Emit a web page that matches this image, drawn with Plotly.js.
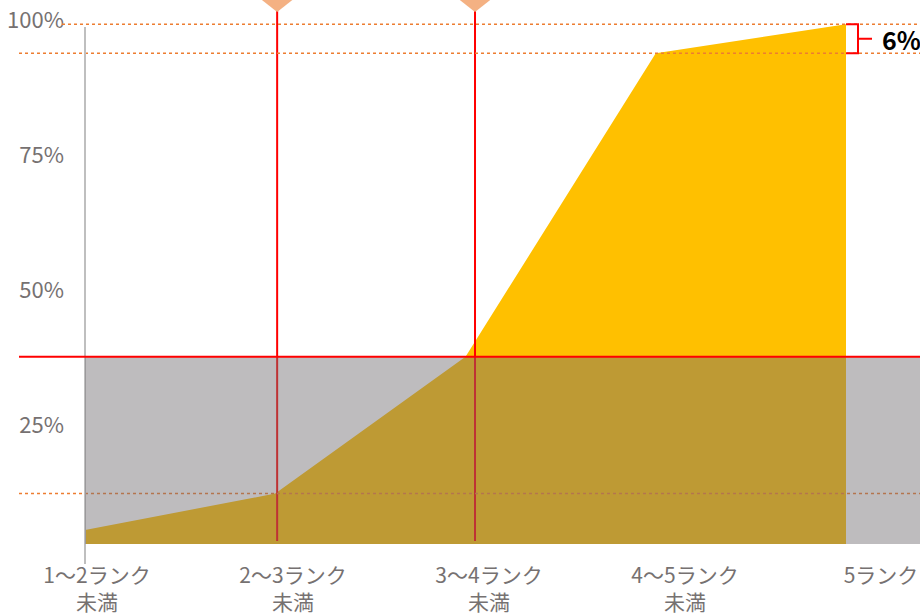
<!DOCTYPE html>
<html>
<head>
<meta charset="utf-8">
<script src="https://cdn.plot.ly/plotly-3.0.1.min.js"></script>
<style>html,body{margin:0;padding:0;background:#fff;}#chart{width:920px;height:614px;}</style>
</head>
<body>
<div id="chart"></div>
<script>
// ---- data ----
const categories = ['1～2ランク<br>未満', '2～3ランク<br>未満', '3～4ランク<br>未満', '4～5ランク<br>未満', '5ランク'];
const shareValues = [2.7, 9.7, 36, 94.4, 100];
const thresholdLevel = 36;
const markerPositions = [1.01, 2.05];
const refLevels = [100, 94.4, 9.7];
const yTickValues = [25, 50, 75, 100];
const gapLabel = '6%';

// ---- geometry helpers (page pixels -> data units) ----
const W = 920, H = 614, ML = 66, MB = 70;
const X0PX = 85, XSTEP = 190.25;
const Y0PX = 544, YSCALE = 5.198;
const px2x = p => (p - X0PX) / XSTEP;
const py2y = p => (Y0PX - p) / YSCALE;
const px2paper = p => (p - ML) / (W - ML);
const py2paper = p => (Y0PX - p) / Y0PX;

const fontFam = '"Noto Sans CJK JP", "Noto Sans", sans-serif';
const gray = '#767171';

const traces = [
  {
    x: categories.map((c, i) => i), y: shareValues,
    type: 'scatter', mode: 'lines', fill: 'tozeroy',
    fillcolor: '#FFC000', line: {width: 0, color: '#FFC000'},
    hoverinfo: 'skip', showlegend: false
  },
  {
    x: [0], y: [50], xaxis: 'x2', yaxis: 'y2', type: 'scatter', mode: 'markers',
    marker: {opacity: 0}, hoverinfo: 'skip', showlegend: false
  }
];

const shapes = [];
markerPositions.forEach(m => {
  shapes.push({type: 'line', xref: 'x', yref: 'y', x0: m, x1: m, y0: py2y(541), y1: py2y(8),
    line: {color: '#FF0000', width: 2}, layer: 'above'});
});
refLevels.forEach((lv, i) => {
  shapes.push({type: 'line', xref: 'paper', yref: 'y', x0: px2paper(i === 0 ? 62 : 19), x1: 1, y0: lv, y1: lv,
    line: {color: '#ED7D31', width: 1.5, dash: 'dot'}, layer: 'above'});
});
shapes.push({type: 'line', xref: 'x', yref: 'paper', x0: 0, x1: 0, y0: py2paper(564), y1: py2paper(27),
  line: {color: '#BFBFBF', width: 2}, layer: 'above'});
shapes.push({type: 'rect', xref: 'x', yref: 'y', x0: 0, x1: 6, y0: 0, y1: thresholdLevel,
  fillcolor: 'rgba(114,110,113,0.46)', line: {width: 0}, layer: 'above'});
shapes.push({type: 'line', xref: 'paper', yref: 'y', x0: px2paper(19), x1: 1, y0: thresholdLevel, y1: thresholdLevel,
  line: {color: '#FF0000', width: 2}, layer: 'above'});
markerPositions.forEach(m => {
  const tipY = py2y(12), topY = py2y(-3);
  const hw = 19 / XSTEP;
  shapes.push({type: 'path', xref: 'x', yref: 'y',
    path: `M ${m - hw} ${topY} L ${m + hw} ${topY} L ${m} ${tipY} Z`,
    fillcolor: '#F4B183', line: {width: 0}, layer: 'above'});
});
const lastIdx = shareValues.length - 1;
const bx = px2x(858), btx = px2x(872);
const topVal = shareValues[lastIdx], prevVal = shareValues[lastIdx - 1];
shapes.push({type: 'path', xref: 'x', yref: 'y',
  path: `M ${lastIdx} ${topVal} L ${bx} ${topVal} L ${bx} ${prevVal} L ${lastIdx} ${prevVal}`,
  line: {color: '#FF0000', width: 2}, layer: 'above'});
shapes.push({type: 'line', xref: 'x', yref: 'y', x0: bx, x1: btx, y0: (topVal + prevVal) / 2, y1: (topVal + prevVal) / 2,
  line: {color: '#FF0000', width: 2}, layer: 'above'});

const annotations = [{
  xref: 'x', yref: 'y', x: px2x(880), y: (topVal + prevVal) / 2, xanchor: 'left', yanchor: 'middle',
  text: '<b>' + gapLabel + '</b>', showarrow: false,
  font: {family: fontFam, size: 25, color: '#000000'}
}];

const LX0 = 97, LSTEP = 196;

const layout = {
  width: W, height: H,
  margin: {l: ML, r: 0, t: 0, b: MB, pad: 0},
  paper_bgcolor: '#ffffff', plot_bgcolor: 'rgba(0,0,0,0)',
  showlegend: false,
  xaxis: {range: [px2x(ML), px2x(W)], showgrid: false, zeroline: false, showline: false,
    showticklabels: false, ticks: '', fixedrange: true},
  yaxis: {range: [0, py2y(0)], showgrid: false, zeroline: false, showline: false,
    showticklabels: false, ticks: '', fixedrange: true},
  xaxis2: {overlaying: 'x', anchor: 'y2', side: 'bottom',
    range: [(ML - LX0) / LSTEP, (W - LX0) / LSTEP],
    tickmode: 'array', tickvals: categories.map((c, i) => i), ticktext: categories,
    showgrid: false, zeroline: false, showline: false, ticks: '', ticklabelstandoff: 17,
    tickfont: {family: fontFam, size: 21, color: gray}, tickangle: 0, fixedrange: true},
  yaxis2: {overlaying: 'y', anchor: 'x2', side: 'left',
    range: [62.5 - (Y0PX - 222.75) / 5.396, 62.5 + 222.75 / 5.396],
    tickmode: 'array', tickvals: yTickValues, ticktext: yTickValues.map(v => v + '%'),
    showgrid: false, zeroline: false, showline: false, ticks: '', ticklabelstandoff: 1,
    tickfont: {family: fontFam, size: 22, color: gray}, fixedrange: true},
  shapes: shapes,
  annotations: annotations
};

Plotly.newPlot('chart', traces, layout, {displayModeBar: false, staticPlot: true});
</script>
</body>
</html>
